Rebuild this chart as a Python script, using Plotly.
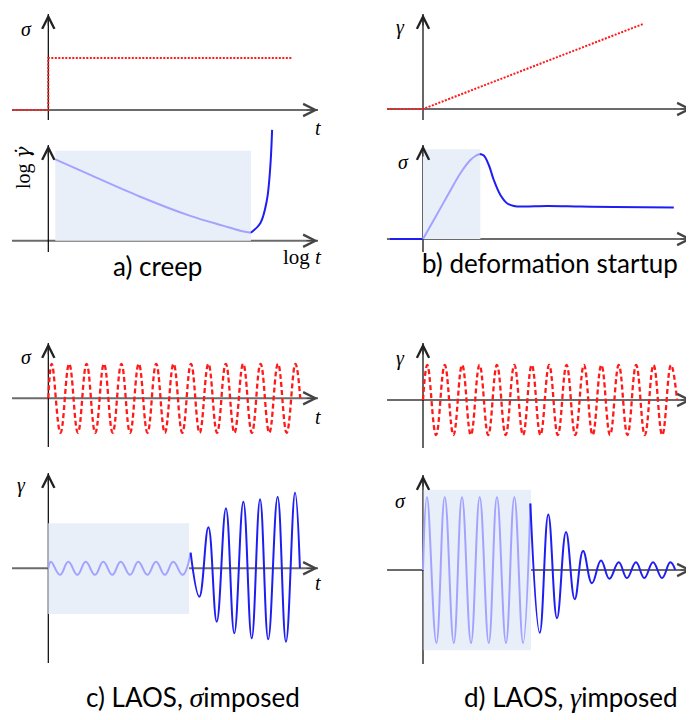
import plotly.graph_objects as go

# the page body adds an 8px margin, so the figure is laid out in screen pixels minus OFF
OFF = 8
W, H = 694 - OFF, 720 - OFF

# ---- values (schematic, arbitrary units) ----
# a) creep: imposed stress step, strain-rate response (log-log)
creep_t = [-1.8, 0, 0, 12.15]
creep_sigma = [0, 0, 2.6, 2.6]
rate_logt_light = [0.35, 2.1, 4.6, 7.1, 8.77, 9.6, 10.13]
rate_logg_light = [4.07, 3.29, 2.2, 1.24, 0.74, 0.5, 0.4]
rate_logt_dark = [10.13, 10.6, 10.93, 11.1, 11.19]
rate_logg_dark = [0.4, 0.87, 2.03, 3.7, 5.54]
creep_shade_t = [0.35, 10.13]
creep_shade_y = [0, 4.5]

# b) deformation startup: imposed strain ramp, stress overshoot
startup_t = [-1.8, 0, 11.0]
startup_gamma = [0, 0, 4.25]
stress_t_pre = [-1.65, 0]
stress_s_pre = [0, 0]
stress_t_light = [0, 0.54, 1.2, 1.87, 2.37, 2.62, 2.84]
stress_s_light = [0, 0.95, 2.12, 3.29, 3.95, 4.15, 4.25]
stress_t_dark = [2.84, 3.04, 3.29, 3.54, 3.87, 4.2, 4.54, 5.04, 6.2, 7.87, 9.54, 12.54]
stress_s_dark = [4.25, 4.17, 3.7, 2.95, 2.2, 1.79, 1.65, 1.62, 1.65, 1.62, 1.6, 1.57]
startup_shade_t = [0, 2.87]
startup_shade_y = [0, 4.49]

# c) LAOS, stress imposed (t in periods)
laos_c_t = [0, 0.2, 0.7, 1.2, 1.7, 2.2, 2.7, 3.2, 3.7, 4.2, 4.7, 5.2, 5.7, 6.2, 6.7, 7.2,
            7.7, 8.2, 8.7, 9.2, 9.7, 10.2, 10.7, 11.2, 11.7, 12.2, 12.7, 13.2, 13.7, 14.2, 14.48]
laos_c_sigma = [0, 1, -1, 1, -1, 1, -1, 1, -1, 1, -1, 1, -1, 1, -1, 1,
                -1, 1, -1, 1, -1, 1, -1, 1, -1, 1, -1, 1, -1, 1, 0]
resp_c_t_light = [0, 0.15, 0.67, 1.15, 1.67, 2.15, 2.68, 3.16, 3.68, 4.16, 4.7, 5.17,
                  5.69, 6.19, 6.7, 7.18, 7.72, 8.18]
resp_c_g_light = [0, 0.65, -0.65, 0.65, -0.65, 0.65, -0.65, 0.65, -0.65, 0.65, -0.65, 0.65,
                  -0.65, 0.65, -0.65, 0.65, -0.65, 1.56]
resp_c_t_dark = [8.18, 8.68, 9.2, 9.68, 10.21, 10.69, 11.21, 11.69, 12.17, 12.64, 13.18,
                 13.66, 14.18, 14.46]
resp_c_g_dark = [1.56, -2.84, 4.1, -5.34, 6.0, -6.5, 6.66, -7.0, 6.9, -7.1, 7.16, -7.34, 7.56, 0]
laos_c_shade_t = [0, 8.09]
laos_c_shade_y = [-4.57, 4.5]

# d) LAOS, strain imposed (t in periods)
laos_d_t = [0, 0.25, 0.75, 1.25, 1.75, 2.25, 2.75, 3.25, 3.75, 4.25, 4.75, 5.25, 5.75, 6.25,
            6.75, 7.25, 7.75, 8.25, 8.75, 9.25, 9.75, 10.25, 10.75, 11.25, 11.75, 12.25,
            12.75, 13.25, 13.75, 14.25, 14.6]
laos_d_gamma = [0, 1, -1, 1, -1, 1, -1, 1, -1, 1, -1, 1, -1, 1, -1, 1,
                -1, 1, -1, 1, -1, 1, -1, 1, -1, 1, -1, 1, -1, 1, 0]
resp_d_t_light = [0, 0.23, 0.77, 1.25, 1.77, 2.24, 2.76, 3.26, 3.78, 4.25, 4.77, 5.25, 5.75, 6.17]
resp_d_s_light = [0, 1, -1, 1, -1, 1, -1, 1, -1, 1, -1, 1, -1, 0.91]
resp_d_t_dark = [6.17, 6.71, 7.2, 7.7, 8.22, 8.72, 9.2, 9.71, 10.23, 10.71, 11.25, 11.72,
                 12.24, 12.72, 13.22, 13.74, 14.21, 14.5]
resp_d_s_dark = [0.91, -0.86, 0.76, -0.66, 0.52, -0.40, 0.26, -0.18, 0.13, -0.12, 0.105, -0.11,
                 0.105, -0.11, 0.105, -0.11, 0.105, 0]
laos_d_shade_t = [0.04, 6.21]
laos_d_shade_y = [-1.1, 1.1]

RED = '#FF1A1A'
LIGHT = '#A3A3FF'
DARK = '#1E1EF2'
SHADE = '#E8EFF9'


def px_x(x):
    return (x - OFF) / W


def px_y(y):
    return 1 - (y - OFF) / H


# panel geometry in screen pixels: origin, px per unit, x-axis span, y-axis span (bottom, tip), box
PANELS = [
    dict(o=(48.3, 110), s=(20, 20), xa=(12, 318), ya=(120, 14), box=(8, 347, 8, 135)),
    dict(o=(423, 109), s=(20, 20), xa=(387, 692), ya=(120, 14), box=(347, 694, 8, 135)),
    dict(o=(48.3, 240.7), s=(20, 20), xa=(12, 318), ya=(252, 145), box=(8, 347, 120, 262)),
    dict(o=(423, 239), s=(20, 20), xa=(387, 692), ya=(252, 145), box=(347, 694, 120, 262)),
    dict(o=(48.3, 398.3), s=(17.4, 34.5), xa=(12, 318), ya=(447, 343), box=(8, 347, 335, 455)),
    dict(o=(423, 400), s=(17.4, 35), xa=(387, 692), ya=(448, 343), box=(347, 694, 335, 455)),
    dict(o=(48.3, 568.3), s=(17.4, 10), xa=(12, 318), ya=(663, 473), box=(8, 347, 465, 672)),
    dict(o=(423, 570), s=(17.4, 73), xa=(387, 692), ya=(664, 475), box=(347, 694, 465, 672)),
]

fig = go.Figure()
layout = {}
shapes = []
annotations = []

for i, p in enumerate(PANELS, start=1):
    x0, x1, y0, y1 = p['box']
    ox, oy = p['o']
    sx, sy = p['s']
    layout[f'xaxis{i}'] = dict(domain=[px_x(x0), px_x(x1)], range=[(x0 - ox) / sx, (x1 - ox) / sx],
                               visible=False, anchor=f'y{i}')
    layout[f'yaxis{i}'] = dict(domain=[px_y(y1), px_y(y0)], range=[(oy - y1) / sy, (oy - y0) / sy],
                               visible=False, anchor=f'x{i}')


def add(i, x, y, color, width=2, dash=None, shape='spline', smoothing=1):
    fig.add_trace(go.Scatter(
        x=x, y=y, mode='lines', xaxis=f'x{i}', yaxis=f'y{i}', hoverinfo='skip',
        line=dict(color=color, width=width, dash=dash, shape=shape, smoothing=smoothing)))


def shade(i, xs, ys):
    shapes.append(dict(type='rect', xref=f'x{i}', yref=f'y{i}', x0=xs[0], x1=xs[1],
                       y0=ys[0], y1=ys[1], fillcolor=SHADE, line=dict(width=0), layer='below'))


# traces
add(1, creep_t, creep_sigma, RED, 2, '2px,1.5px', 'linear')
add(2, startup_t, startup_gamma, RED, 2, '2px,1.5px', 'linear')
add(3, rate_logt_light, rate_logg_light, LIGHT)
add(3, rate_logt_dark, rate_logg_dark, DARK)
add(4, stress_t_pre, stress_s_pre, DARK, shape='linear')
add(4, stress_t_light, stress_s_light, LIGHT)
add(4, stress_t_dark, stress_s_dark, DARK)
add(5, laos_c_t, laos_c_sigma, RED, 2.3, '5px,3px', smoothing=1.2)
add(6, laos_d_t, laos_d_gamma, RED, 2.3, '5px,3px', smoothing=1.2)
add(7, resp_c_t_light, resp_c_g_light, LIGHT, smoothing=1.2)
add(7, resp_c_t_dark, resp_c_g_dark, DARK, smoothing=1.2)
add(8, resp_d_t_light, resp_d_s_light, LIGHT, smoothing=1.2)
add(8, resp_d_t_dark, resp_d_s_dark, DARK, smoothing=1.2)

shade(3, creep_shade_t, creep_shade_y)
shade(4, startup_shade_t, startup_shade_y)
shade(7, laos_c_shade_t, laos_c_shade_y)
shade(8, laos_d_shade_t, laos_d_shade_y)

# axes drawn as lines with open arrow heads
for p in PANELS:
    ox, oy = p['o']
    xa0, xa1 = p['xa']
    yb, yt = p['ya']
    shapes.append(dict(type='line', xref='paper', yref='paper', x0=px_x(xa0), x1=px_x(xa1),
                       y0=px_y(oy), y1=px_y(oy), line=dict(color='#6B6B6B', width=2), layer='below'))
    shapes.append(dict(type='line', xref='paper', yref='paper', x0=px_x(ox), x1=px_x(ox),
                       y0=px_y(yb), y1=px_y(yt), line=dict(color='black', width=1.2), layer='below'))
    annotations.append(dict(x=px_x(xa1), y=px_y(oy), xref='paper', yref='paper', text='',
                            font=dict(size=1), borderpad=0,
                            showarrow=True, ax=-12, ay=0, arrowhead=5, arrowsize=2, arrowwidth=1.2,
                            arrowcolor='#444444', standoff=0))
    annotations.append(dict(x=px_x(ox), y=px_y(yt), xref='paper', yref='paper', text='',
                            font=dict(size=1), borderpad=0,
                            showarrow=True, ax=0, ay=12, arrowhead=5, arrowsize=2, arrowwidth=1.2,
                            arrowcolor='#222222', standoff=0))


def label(x, y, text, size=20, family='Liberation Serif', xanchor='center', angle=0):
    annotations.append(dict(x=px_x(x), y=px_y(y), xref='paper', yref='paper', text=text,
                            showarrow=False, xanchor=xanchor, yanchor='middle', textangle=angle,
                            font=dict(family=family, size=size, color='black')))


label(26, 29, '<i>σ</i>')
label(318, 128, '<i>t</i>')
label(400, 28, '<i>γ</i>')
label(694, 130, '<i>t</i>', xanchor='right')
label(23, 168, 'log <span style="font-family:DejaVu Serif"><i>γ̇</i></span>', size=20, angle=-90)
label(302, 257, 'log <i>t</i>', size=21)
label(403, 162, '<i>σ</i>')
label(694, 257, '<i>t</i>', xanchor='right')
label(26, 357, '<i>σ</i>')
label(318, 417, '<i>t</i>')
label(400, 359, '<i>γ</i>')
label(694, 420, '<i>t</i>', xanchor='right')
label(22, 485, '<i>γ</i>')
label(318, 583, '<i>t</i>')
label(400, 501, '<i>σ</i>')
label(694, 590, '<i>t</i>', xanchor='right')

SANS = 'Lato'
GREEK = '<span style="font-family:Liberation Serif;font-size:28px"><i>{}</i></span>'
label(157, 266, 'a) creep', 26, SANS)
label(550, 263, 'b) deformation startup', 26, SANS)
label(193, 697, 'c) LAOS, ' + GREEK.format('σ') + 'imposed', 26, SANS)
label(571, 697, 'd) LAOS, ' + GREEK.format('γ') + 'imposed', 26, SANS)

fig.update_layout(
    width=W, height=H,
    margin=dict(l=0, r=0, t=0, b=0),
    paper_bgcolor='white', plot_bgcolor='rgba(0,0,0,0)',
    showlegend=False,
    shapes=shapes, annotations=annotations,
    **layout
)

fig.write_html("out.html")
